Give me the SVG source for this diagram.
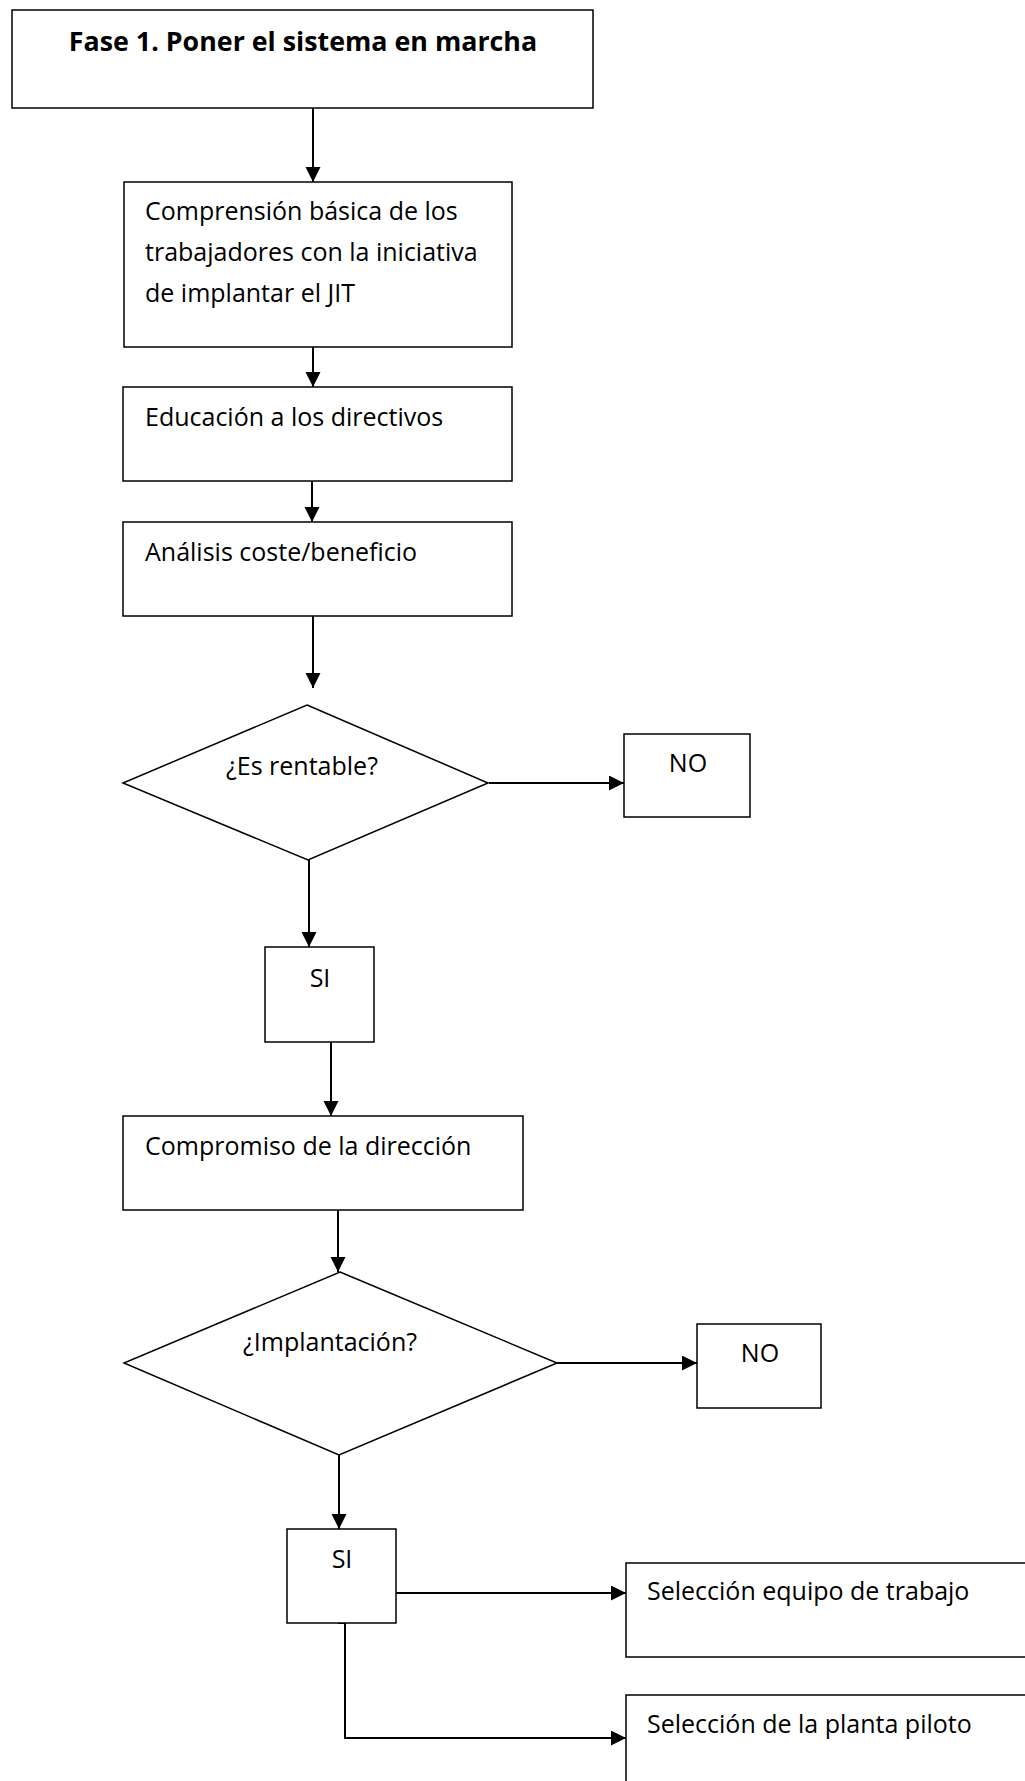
<svg xmlns="http://www.w3.org/2000/svg" width="1025" height="1781" viewBox="0 0 1025 1781">
<style>
.box{fill:#fff;stroke:#000;stroke-width:1.5}
.t{font-family:"Open Sans","Liberation Sans",sans-serif;font-size:25px;fill:#000}
.c{text-anchor:middle}
.b{font-weight:bold;font-size:26.8px}
.conn{fill:none;stroke:#000;stroke-width:2}
</style>
<defs>
<marker id="ah" markerUnits="userSpaceOnUse" markerWidth="16" markerHeight="16" refX="15" refY="7.5" orient="auto">
<path d="M0,0 L15,7.5 L0,15 Z" fill="#000"/>
</marker>
</defs>
<rect width="1025" height="1781" fill="#fff"/>
<g id="connectors">
<path class="conn" d="M313,108 V182" marker-end="url(#ah)"/>
<path class="conn" d="M313,347 V387" marker-end="url(#ah)"/>
<path class="conn" d="M312,481 V522" marker-end="url(#ah)"/>
<path class="conn" d="M313,616 V688" marker-end="url(#ah)"/>
<path class="conn" d="M489,783 H624" marker-end="url(#ah)"/>
<path class="conn" d="M309,860 V947" marker-end="url(#ah)"/>
<path class="conn" d="M331,1042 V1116" marker-end="url(#ah)"/>
<path class="conn" d="M338,1210 V1272" marker-end="url(#ah)"/>
<path class="conn" d="M557,1363 H697" marker-end="url(#ah)"/>
<path class="conn" d="M339,1455 V1529" marker-end="url(#ah)"/>
<path class="conn" d="M396,1593 H626" marker-end="url(#ah)"/>
<path class="conn" d="M338,1623 H345 V1738 H626" marker-end="url(#ah)"/>
</g>
<g id="fase1">
<rect class="box" x="12" y="10" width="581" height="98"/>
<text class="t c b" x="303" y="51">Fase 1. Poner el sistema en marcha</text>
</g>
<g id="comprension">
<rect class="box" x="124" y="182" width="388" height="165"/>
<text class="t" x="145" y="220">Comprensión básica de los</text>
<text class="t" x="145" y="261">trabajadores con la iniciativa</text>
<text class="t" x="145" y="302">de implantar el JIT</text>
</g>
<g id="educacion">
<rect class="box" x="123" y="387" width="389" height="94"/>
<text class="t" x="145" y="426">Educación a los directivos</text>
</g>
<g id="analisis">
<rect class="box" x="123" y="522" width="389" height="94"/>
<text class="t" x="145" y="561">Análisis coste/beneficio</text>
</g>
<g id="rentable">
<polygon class="box" points="307,705 488,783 308,860 123,783"/>
<text class="t" x="226" y="775">¿Es rentable?</text>
</g>
<g id="no1">
<rect class="box" x="624" y="734" width="126" height="83"/>
<text class="t c" x="688" y="772">NO</text>
</g>
<g id="si1">
<rect class="box" x="265" y="947" width="109" height="95"/>
<text class="t c" x="320" y="987">SI</text>
</g>
<g id="compromiso">
<rect class="box" x="123" y="1116" width="400" height="94"/>
<text class="t" x="145" y="1155">Compromiso de la dirección</text>
</g>
<g id="implantacion">
<polygon class="box" points="340,1272 557,1363 339,1455 124,1363"/>
<text class="t" x="243" y="1351">¿Implantación?</text>
</g>
<g id="no2">
<rect class="box" x="697" y="1324" width="124" height="84"/>
<text class="t c" x="760" y="1362">NO</text>
</g>
<g id="si2">
<rect class="box" x="287" y="1529" width="109" height="94"/>
<text class="t c" x="342" y="1568">SI</text>
</g>
<g id="equipo">
<rect class="box" x="626" y="1563" width="420" height="94"/>
<text class="t" x="647" y="1600">Selección equipo de trabajo</text>
</g>
<g id="planta">
<rect class="box" x="626" y="1695" width="420" height="120"/>
<text class="t" x="647" y="1733">Selección de la planta piloto</text>
</g>
</svg>
